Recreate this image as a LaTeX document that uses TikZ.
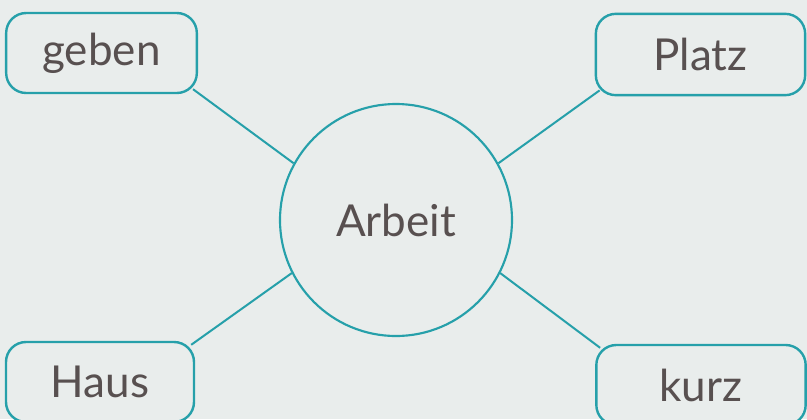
\documentclass[tikz,border=0pt]{standalone}
\usepackage{fontspec}
\setmainfont{Lato}
\usepackage{tikz}
\usetikzlibrary{positioning}
\usepackage{xcolor}

\definecolor{teal1}{RGB}{38,160,170}
\definecolor{ink}{RGB}{88,80,80}
\definecolor{paper}{RGB}{233,237,236}

\begin{document}
\begin{tikzpicture}[x=0.75pt,y=0.75pt,yscale=-1,xscale=1,
  wordbox/.style={draw=teal1,line width=1.8pt,rounded corners=15pt,fill=paper,
    text=ink,font=\fontsize{33}{38}\selectfont,inner sep=0pt},
  hub/.style={draw=teal1,line width=1.6pt,circle,fill=paper,minimum size=174pt,
    text=ink,font=\fontsize{33}{38}\selectfont,inner sep=0pt},
  link/.style={draw=teal1,line width=1.5pt}]
%set diagram left start at 0, and has height of 419
\fill[paper] (0,0) rectangle (807,419);
\useasboundingbox (0,0) rectangle (807,419);

% Circle
\node[hub] (arbeit) at (396,220) {Arbeit};
% Text Nodes
\node[wordbox,minimum width=143pt,minimum height=60pt] (geben) at (101.5,53) {geben};
\node[wordbox,minimum width=157pt,minimum height=61pt] (platz) at (700.5,54.5) {Platz};
\node[wordbox,minimum width=141pt,minimum height=60pt] (haus) at (100,382) {Haus};
\node[wordbox,minimum width=157pt,minimum height=60pt] (kurz) at (701,385) {kurz};

%Straight Lines
\draw[link] ([shift={(-5,-5)}]geben.south east) -- (arbeit.151);
\draw[link] ([shift={(5,-6)}]platz.south west) -- (arbeit.29);
\draw[link] ([shift={(-4,4)}]haus.north east) -- (arbeit.207);
\draw[link] ([shift={(5,4)}]kurz.north west) -- (arbeit.333);
\end{tikzpicture}
\end{document}
